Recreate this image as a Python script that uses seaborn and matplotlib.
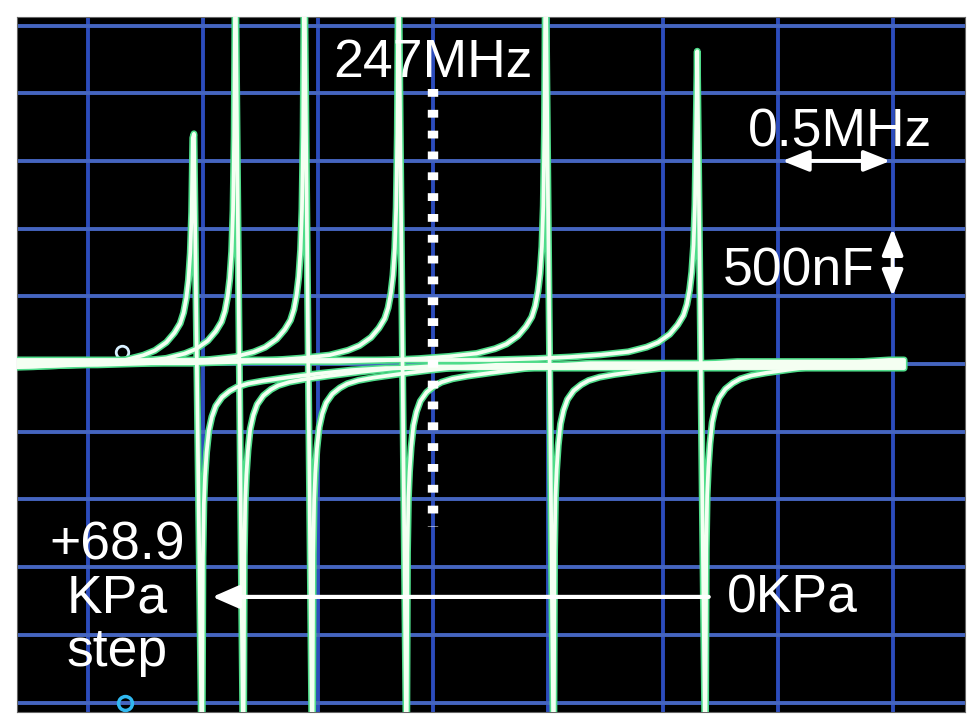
import matplotlib
matplotlib.use("Agg")
import pandas as pd
import matplotlib.pyplot as plt
import seaborn as sns

# screen: 0.5 MHz / div across, 500 nF / div up, 247 MHz at the centre line
grid_freq = [245.5, 246.0, 246.5, 247.0, 247.5, 248.0, 248.5, 249.0]
grid_cap = [-2500, -2000, -1500, -1000, -500, 0, 500, 1000, 1500, 2000, 2500]

# one sweep per pressure step (MHz / nF)
res_freq = [245.96, 246.14, 246.44, 246.85, 247.49, 248.15]
peak_cap = [1730, 3000, 3000, 3000, 3000, 2280]
dip_cap = [-3000, -3000, -3000, -3000, -3000, -3000]
baseline_shift = [-30, -18, -6, 6, 18, 30]
drop_width = 0.035

# shape of a single resonance: offsets from the peak, and from the drop
rise_off = [-0.90, -0.70, -0.55, -0.42, -0.30, -0.22, -0.17, -0.12, -0.085,
            -0.06, -0.045, -0.033, -0.024, -0.016, -0.010, -0.005]
rise_cap = [0, 10, 22, 38, 60, 95, 130, 190, 260, 330, 410, 520, 650, 850, 1150, 1700]
tail_off = [0.004, 0.008, 0.013, 0.02, 0.03, 0.043, 0.06, 0.087, 0.12, 0.152,
            0.2, 0.265, 0.37, 0.51, 0.65, 0.80]
tail_cap = [-1400, -1000, -800, -620, -460, -360, -280, -215, -170, -140,
            -115, -95, -70, -40, -15, 0]

sweep_start = 245.0
sweep_end = 249.05

rows = []
for k, f0 in enumerate(res_freq):
    pts = [(sweep_start, 0)]
    pts += [(f0 + o, c) for o, c in zip(rise_off, rise_cap) if c < peak_cap[k]]
    pts += [(f0, peak_cap[k]), (f0 + drop_width, dip_cap[k])]
    pts += [(f0 + drop_width + o, c) for o, c in zip(tail_off, tail_cap)]
    pts += [(sweep_end, 0)]
    for f, c in pts:
        rows.append({"freq": f, "cap": c + baseline_shift[k], "sweep": k})
df = pd.DataFrame(rows)

sns.set_theme(style="dark", rc={"axes.facecolor": "black", "figure.facecolor": "white"})
plt.rcParams["font.family"] = ["Liberation Sans", "DejaVu Sans"]

fig = plt.figure(figsize=(9.8, 7.28), dpi=100)
ax = fig.add_axes([17 / 980, 16 / 728, 948 / 980, 695 / 728])

for f in grid_freq:
    ax.axvline(f, color="#2c4cbc", lw=2.8, zorder=1)
for c in grid_cap:
    ax.axhline(c, color="#4565c0", lw=2.8, zorder=1)

# traces: green glow + white core
sns.lineplot(data=df, x="freq", y="cap", units="sweep", estimator=None, sort=False,
             color="#4fdc8a", lw=5.0, ax=ax, zorder=3)
sns.lineplot(data=df, x="freq", y="cap", units="sweep", estimator=None, sort=False,
             color="#f4fff2", lw=2.7, ax=ax, zorder=4)

# centre frequency marker
ax.plot([247.0, 247.0], [2030, -1200], color="white", lw=7.5,
        linestyle=(0, (0.75, 1.25)), solid_capstyle="butt", zorder=5)

# screen cursors
ax.plot([245.647], [90], marker="o", ms=9, mfc="none", mec="#d8f0ff", mew=2, zorder=2)
ax.plot([245.66], [-2505], marker="o", ms=10, mfc="none", mec="#30b8f0", mew=2.5, zorder=5)

arrow = dict(arrowstyle="<|-|>,head_length=0.8,head_width=0.32", color="white",
             lw=2.8, shrinkA=0, shrinkB=0, mutation_scale=20)
ax.annotate("", xy=(248.52, 1500), xytext=(248.99, 1500), arrowprops=arrow, zorder=6)
ax.annotate("", xy=(249.0, 1000), xytext=(249.0, 500), arrowprops=arrow, zorder=6)
ax.annotate("", xy=(246.04, -1720), xytext=(248.2, -1720),
            arrowprops=dict(arrowstyle="-|>,head_length=0.8,head_width=0.35", color="white",
                            lw=3, shrinkA=0, shrinkB=0, mutation_scale=20), zorder=6)

fs = 38.5
ax.text(247.0, 2120, "247MHz", color="white", fontsize=fs, ha="center", va="baseline", zorder=7)
ax.text(248.77, 1603, "0.5MHz", color="white", fontsize=fs, ha="center", va="baseline", zorder=7)
ax.text(248.593, 583, "500nF", color="white", fontsize=fs, ha="center", va="baseline", zorder=7)
ax.text(248.279, -1832, "0KPa", color="white", fontsize=fs, ha="left", va="baseline", zorder=7)
ax.text(245.625, -2230, "+68.9\nKPa\nstep", color="white", fontsize=fs, ha="center",
        va="baseline", multialignment="center", linespacing=1.08, zorder=7)

ax.set_xlim(245.19, 249.315)
ax.set_ylim(-2570, 2563)
ax.set_xticks([])
ax.set_yticks([])
ax.set_xlabel("")
ax.set_ylabel("")
for s in ax.spines.values():
    s.set_color("#666666")
    s.set_linewidth(0.8)
ax.grid(False)

fig.savefig("out.png", dpi=100)
plt.close(fig)
